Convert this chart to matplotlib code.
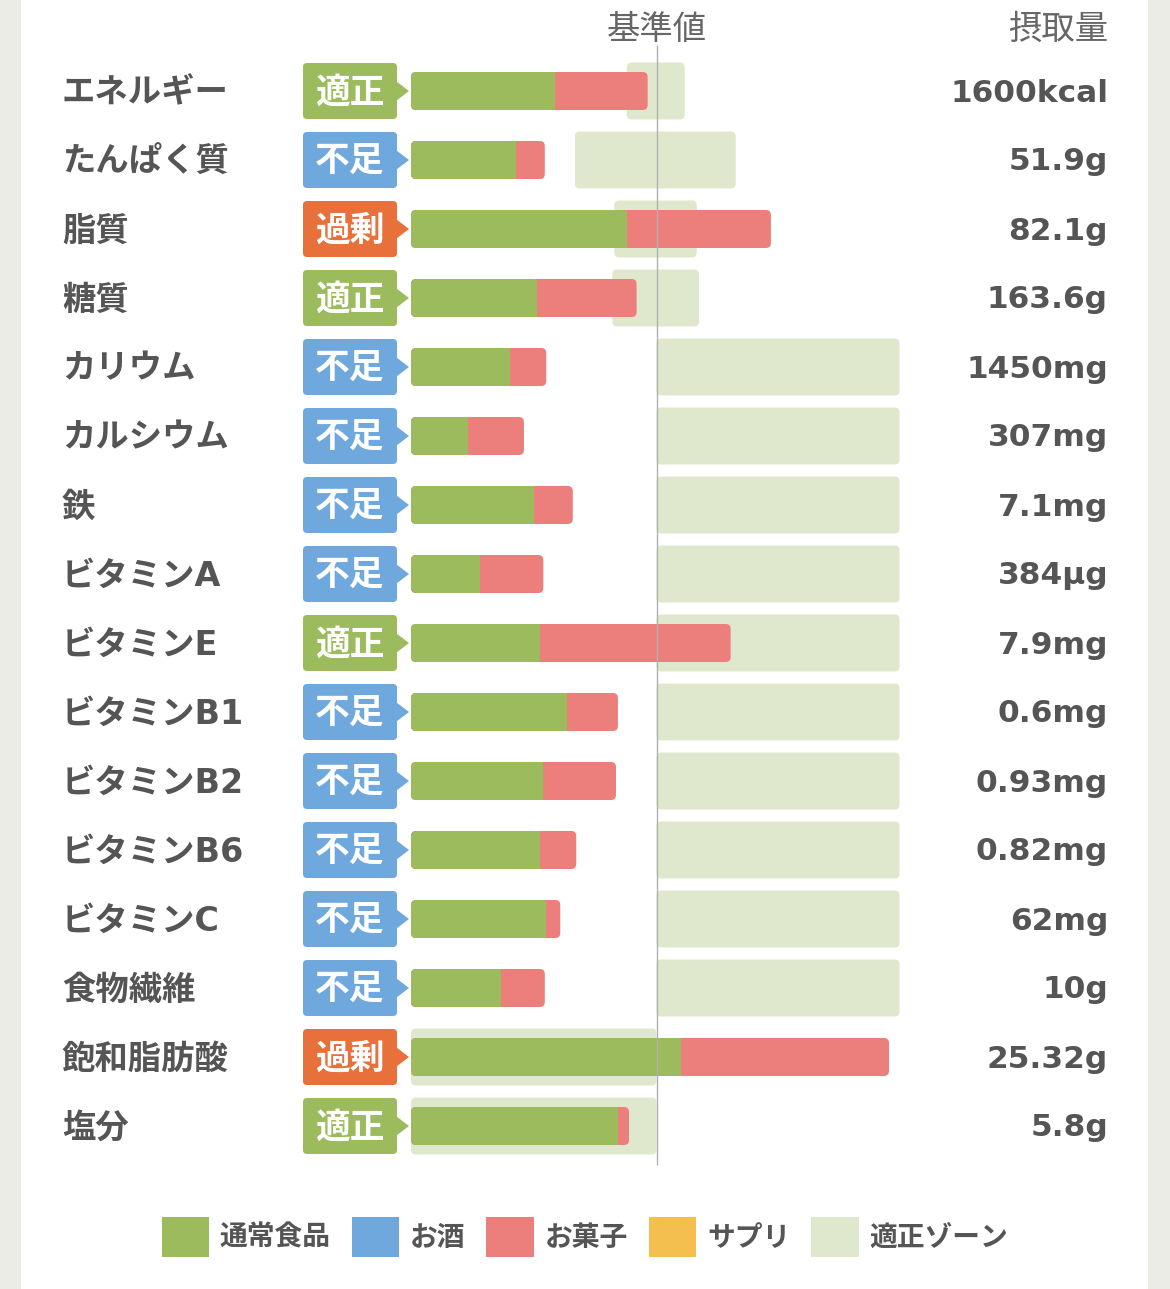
import matplotlib.pyplot as plt
from matplotlib.patches import FancyBboxPatch, Polygon, Patch

plt.rcParams['font.family'] = ['Noto Sans CJK JP', 'DejaVu Sans']

# data: bar lengths in % of the reference value (基準値 = 100)
nutrients = ["エネルギー", "たんぱく質", "脂質", "糖質", "カリウム", "カルシウム", "鉄",
             "ビタミンA", "ビタミンE", "ビタミンB1", "ビタミンB2", "ビタミンB6",
             "ビタミンC", "食物繊維", "飽和脂肪酸", "塩分"]
status = ["適正", "不足", "過剰", "適正", "不足", "不足", "不足", "不足", "適正",
          "不足", "不足", "不足", "不足", "不足", "過剰", "適正"]
food = [58.7, 42.8, 87.9, 51.2, 40.3, 23.2, 50.1, 28.1, 52.5, 63.4, 53.9, 52.5,
        55.0, 36.5, 110.0, 84.3]
alcohol = [0] * 16
sweets = [37.7, 11.7, 58.7, 40.7, 14.8, 22.8, 15.8, 25.8, 77.7, 20.9, 29.6, 14.8,
          5.8, 18.0, 84.7, 4.5]
zone_lo = [87.9, 66.8, 82.8, 82.0, 100, 100, 100, 100, 100, 100, 100, 100, 100, 100, 0, 0]
zone_hi = [111.5, 132.3, 116.4, 117.3, 199, 199, 199, 199, 199, 199, 199, 199, 199, 199,
           100, 100]
amounts = ["1600kcal", "51.9g", "82.1g", "163.6g", "1450mg", "307mg", "7.1mg", "384µg",
           "7.9mg", "0.6mg", "0.93mg", "0.82mg", "62mg", "10g", "25.32g", "5.8g"]

legend_labels = ["通常食品", "お酒", "お菓子", "サプリ", "適正ゾーン"]
GREEN = "#9cbb5c"
BLUE = "#6fa8dc"
RED = "#ec7f7b"
ORANGE = "#f4bf4f"
ZONE = "#dfe8cc"
legend_colors = [GREEN, BLUE, RED, ORANGE, ZONE]
status_colors = {"適正": "#9cbb5c", "不足": "#6fa8dc", "過剰": "#e8703a"}
TEXT = "#555555"
LATIN = ['DejaVu Sans', 'Noto Sans CJK JP']

W, H = 1170, 1289
PX_X = 2.455   # pixels per % unit
PX_Y = 69.0    # pixels per row
X0, Y0 = 411, 91  # pixel of x=0 and first row centre

fig = plt.figure(figsize=(W / 100, H / 100), dpi=100, facecolor="#ecece6")
ax = fig.add_axes([21 / W, 0, (1148 - 21) / W, 1])
ax.set_facecolor("white")
ax.set_xlim((21 - X0) / PX_X, (1148 - X0) / PX_X)
ax.set_ylim((H - Y0) / PX_Y, -Y0 / PX_Y)
ax.set_xticks([])
ax.set_yticks([])
for s in ax.spines.values():
    s.set_visible(False)
aspect = PX_X / PX_Y
dy = 2 / PX_Y  # small nudge for text baseline


def rbox(x0, x1, yc, hpx, color, z, r=5):
    rx, ry = r / PX_X, r / PX_Y
    h = hpx / PX_Y
    ax.add_patch(FancyBboxPatch((x0 + rx, yc - h / 2 + ry), x1 - x0 - 2 * rx, h - 2 * ry,
                                boxstyle=f"round,pad={rx},rounding_size={rx}",
                                mutation_aspect=aspect, fc=color, ec="none", zorder=z))


for i, name in enumerate(nutrients):
    # zone
    rbox(zone_lo[i], zone_hi[i], i, 57, ZONE, 1)
    # stacked bar
    total = food[i] + alcohol[i] + sweets[i]
    rbox(0, total, i, 38, RED, 2)
    rbox(0, food[i], i, 38, GREEN, 3)
    ax.add_patch(plt.Rectangle((food[i] - 6 / PX_X, i - 19 / PX_Y), 6 / PX_X, 38 / PX_Y,
                               fc=GREEN, ec="none", zorder=3))
    # status badge
    c = status_colors[status[i]]
    bx0, bx1, tip = (303 - X0) / PX_X, (397 - X0) / PX_X, (409 - X0) / PX_X
    rbox(bx0, bx1, i, 56, c, 3, r=4)
    ax.add_patch(Polygon([(bx1 - 1, i - 11 / PX_Y), (tip, i), (bx1 - 1, i + 11 / PX_Y)],
                         closed=True, fc=c, ec="none", zorder=3))
    ax.text((bx0 + bx1) / 2, i + 0.01, status[i], color="white", fontsize=25,
            fontweight="bold", ha="center", va="center", zorder=4)
    # label and amount
    ax.text((62 - X0) / PX_X, i + dy, name, color=TEXT, fontsize=24, fontweight="bold",
            ha="left", va="center", family=LATIN)
    ax.text((1108 - X0) / PX_X, i + dy, amounts[i], color=TEXT, fontsize=22.5,
            fontweight="bold", ha="right", va="center", family=LATIN)

# reference line
ax.vlines(100, (45 - Y0) / PX_Y, (1165 - Y0) / PX_Y, color="#b0b0b0", lw=1, zorder=5)

# headers
ax.text(100, (29 - Y0) / PX_Y, "基準値", color="#666666", fontsize=24, ha="center",
        va="center")
ax.text((1108 - X0) / PX_X, (29 - Y0) / PX_Y, "摂取量", color="#666666", fontsize=24,
        ha="right", va="center")

handles = [Patch(fc=c, ec="none") for c in legend_colors]
leg = fig.legend(handles, legend_labels, loc="center", bbox_to_anchor=(0.5, 1 - 1237 / H),
                 ncol=5, frameon=False, fontsize=20, handlelength=1.7, handleheight=1.85,
                 handletextpad=0.4, columnspacing=0.75, borderaxespad=0)
for t in leg.get_texts():
    t.set_color(TEXT)
    t.set_fontweight("bold")

fig.savefig("out.png", dpi=100, facecolor=fig.get_facecolor())
